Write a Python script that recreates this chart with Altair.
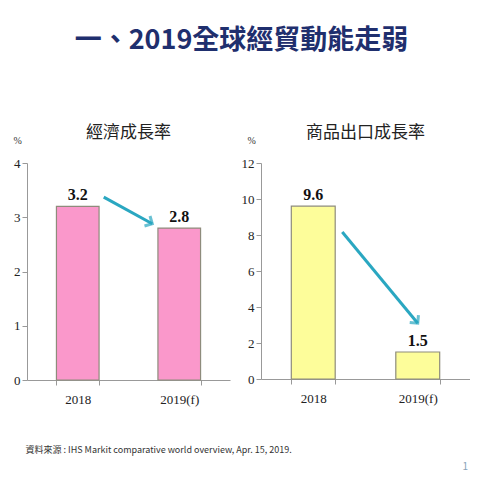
import altair as alt
import pandas as pd

years = ["2018", "2019(f)"]
gdp_growth = [3.2, 2.8]
export_growth = [9.6, 1.5]

# arrow annotations: start / end heights in data units
gdp_arrow = [3.37, 2.88]
export_arrow = [8.17, 3.1]

CJK = "Noto Sans CJK TC"
SERIF = "Liberation Serif"
TEAL = "#2AA7C1"


def panel(values, arrow, title, ymax, tick_step, color, w, h, arrow_off, axis_title, tx, ty):
    df = pd.DataFrame({"year": years, "value": values})
    arr = pd.DataFrame({"x": [years[0]], "x2": [years[1]], "y": [arrow[0]], "y2": [arrow[1]]})

    x_scale = alt.Scale(paddingInner=0.58, paddingOuter=0.29)
    x_axis = alt.Axis(labelAngle=0, labelFont=SERIF, labelFontSize=13, labelColor="#222",
                      labelPadding=8, tickBand="extent", tickSize=5, domainColor="#999",
                      tickColor="#999", title=axis_title[0], titleFont=axis_title[1],
                      titleFontSize=axis_title[2], titleColor=axis_title[3],
                      titleFontWeight="normal", titleAnchor="start", titleAlign="left",
                      titleX=tx, titleY=ty)
    y_scale = alt.Scale(domain=[0, ymax], nice=False)
    y_axis = alt.Axis(values=list(range(0, ymax + 1, tick_step)), format="d", grid=False,
                      labelOverlap=False, labelFont=SERIF, labelFontSize=13, labelColor="#222",
                      domainColor="#999", tickColor="#999", tickSize=5,
                      title="%", titleAngle=0, titleFont=SERIF, titleFontSize=10,
                      titleFontWeight="normal", titleColor="#333",
                      titleX=-14, titleY=-18, titleAlign="left")

    def X(f):
        return alt.X(f, sort=years, scale=x_scale, axis=x_axis)

    def Y(f):
        return alt.Y(f, scale=y_scale, axis=y_axis)

    bars = alt.Chart(df).mark_bar(color=color, stroke="#8E8C7C", strokeWidth=1.2).encode(
        x=X("year:N"), y=Y("value:Q"))
    labels = alt.Chart(df).mark_text(dy=-11, font=SERIF, fontSize=16, fontWeight="bold",
                                     color="#111").encode(
        x=X("year:N"), y=Y("value:Q"), text=alt.Text("value:Q", format=".1f"))

    line = alt.Chart(arr).mark_rule(color=TEAL, strokeWidth=3, xOffset=arrow_off[0],
                                    x2Offset=arrow_off[1]).encode(
        x=X("x:N"), x2="x2:N", y=Y("y:Q"), y2="y2:Q")
    head = alt.Chart(arr).mark_point(shape="M -1 -1 L 0 0 L -1 1", size=130, filled=False,
                                     color=TEAL, strokeWidth=3, angle=arrow_off[2],
                                     xOffset=arrow_off[1]).encode(
        x=X("x2:N"), y=Y("y2:Q"))

    return alt.layer(bars, labels, line, head).properties(
        width=w, height=h,
        title=alt.TitleParams(title, font=CJK, fontSize=17, fontWeight="normal",
                              color="#222", offset=-7, frame="group"))


left = panel(gdp_growth, gdp_arrow, "經濟成長率", 4, 1, "#FA98CB", 203, 217, (26, -27, 29),
             ("資料來源 : IHS Markit comparative world overview, Apr. 15, 2019.", CJK, 9, "#333"),
             -2, 65)
right = panel(export_growth, export_arrow, "商品出口成長率", 12, 2, "#FDFD9A", 209, 216, (29, 0, 50),
              ("1", CJK, 10, "#8AA3B8"), 201, 82)

chart = alt.hconcat(left, right, spacing=31, bounds="flush").properties(
    title=alt.TitleParams("一、2019全球經貿動能走弱", font=CJK, fontSize=27, fontWeight="bold",
                          color="#1F2F6E", anchor="middle", offset=69),
    padding={"left": 5, "top": 19, "right": 0, "bottom": 5},
).configure_view(stroke=None)

chart.save("out.html", embed_options={"renderer": "svg", "actions": False})
